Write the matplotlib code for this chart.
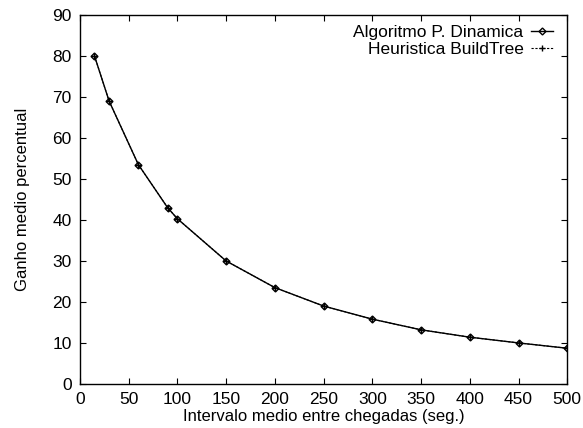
import matplotlib
matplotlib.use("Agg")
import matplotlib.pyplot as plt

plt.rcParams['font.family'] = ['Liberation Sans', 'DejaVu Sans']

# intervalo medio (seg.) e ganho medio (%)
intervalo = [15, 30, 60, 90, 100, 150, 200, 250, 300, 350, 400, 450, 500]
ganho_pd = [80.0, 69.0, 53.5, 43.0, 40.3, 30.0, 23.5, 19.0, 15.8, 13.2, 11.4, 10.0, 8.7]
ganho_bt = [80.0, 69.0, 53.5, 43.0, 40.3, 30.0, 23.5, 19.0, 15.8, 13.2, 11.4, 10.0, 8.7]

fig = plt.figure(figsize=(5.83, 4.28), dpi=100)
ax = fig.add_axes([0.137, 0.103, 0.836, 0.862])

ax.plot(intervalo, ganho_pd, '-', color='black', linewidth=1.0,
        marker='D', markersize=3.5, markerfacecolor='none', markeredgewidth=1.0,
        label='Algoritmo P. Dinamica')
ax.plot(intervalo, ganho_bt, '--', color='black', linewidth=0.8, dashes=(2, 1.5),
        marker='+', markersize=5, markeredgewidth=1.0,
        label='Heuristica BuildTree')

ax.set_xlim(0, 500)
ax.set_ylim(0, 90)
ax.set_xticks(range(0, 501, 50))
ax.set_yticks(range(0, 91, 10))
ax.tick_params(direction='in', top=True, right=True, labelsize=12.5, length=4, pad=6)
for s in ax.spines.values():
    s.set_linewidth(1.0)

ax.set_xlabel("Intervalo medio entre chegadas (seg.)", fontsize=12, labelpad=1)
ax.set_ylabel("Ganho medio percentual", fontsize=12, labelpad=16)

ax.legend(loc='upper right', frameon=False, markerfirst=False, fontsize=12.5,
          handlelength=1.3, handletextpad=0.4, borderaxespad=0, borderpad=0,
          labelspacing=0.1, bbox_to_anchor=(0.971, 0.972))

fig.savefig("out.png", dpi=100)
